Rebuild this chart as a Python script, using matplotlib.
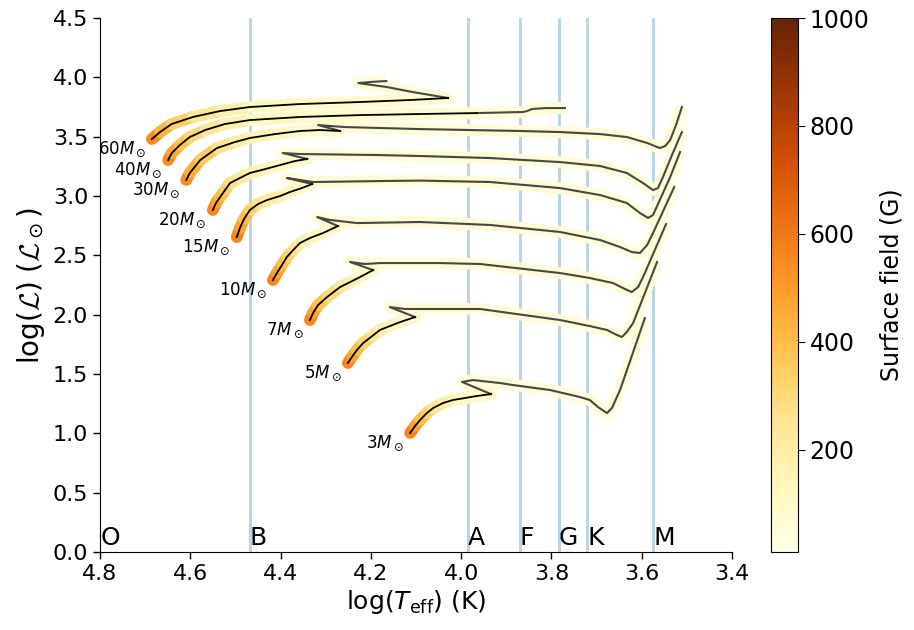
import numpy as np
import matplotlib
matplotlib.use('Agg')
import matplotlib.pyplot as plt
from matplotlib.collections import LineCollection
from matplotlib.colors import Normalize
from matplotlib.cm import ScalarMappable

plt.rcParams['font.family'] = ['DejaVu Sans']
plt.rcParams['mathtext.fontset'] = 'custom'
plt.rcParams['mathtext.rm'] = 'DejaVu Sans'
plt.rcParams['mathtext.it'] = 'DejaVu Sans:italic'
plt.rcParams['mathtext.bf'] = 'DejaVu Sans:bold'
plt.rcParams['mathtext.sf'] = 'DejaVu Sans'
plt.rcParams['mathtext.cal'] = 'cmsy10'

# ---------------- data ----------------
# spectral class boundaries (log Teff)
spec_labels = ['O', 'B', 'A', 'F', 'G', 'K', 'M']
spec_logT = [4.798, 4.468, 3.985, 3.870, 3.783, 3.721, 3.575]

# 60 Msun
ms_T_60 = [4.685, 4.667, 4.641, 4.594, 4.534, 4.468, 4.357, 4.224, 4.113, 4.029]
ms_L_60 = [3.480, 3.539, 3.607, 3.666, 3.716, 3.750, 3.775, 3.792, 3.809, 3.826]
ms_B_60 = [600, 480, 380, 280, 200, 140, 100, 80, 75, 70]
post_T_60 = [4.107, 4.164, 4.228, 4.197, 4.166]
post_L_60 = [3.876, 3.918, 3.952, 3.962, 3.969]

# 40 Msun
ms_T_40 = [4.649, 4.641, 4.623, 4.601, 4.567, 4.523, 4.468, 4.357, 4.224, 4.091, 3.965]
ms_L_40 = [3.303, 3.362, 3.430, 3.497, 3.556, 3.607, 3.640, 3.666, 3.682, 3.691, 3.699]
ms_B_40 = [600, 500, 420, 340, 260, 190, 140, 100, 80, 75, 70]
post_T_40 = [3.863, 3.854, 3.843, 3.814, 3.770]
post_L_40 = [3.708, 3.716, 3.733, 3.741, 3.741]

# 30 Msun
ms_T_30 = [4.609, 4.601, 4.578, 4.541, 4.501, 4.468, 4.412, 4.357, 4.313, 4.268]
ms_L_30 = [3.135, 3.194, 3.303, 3.404, 3.455, 3.489, 3.522, 3.548, 3.556, 3.548]
ms_B_30 = [600, 500, 400, 300, 220, 170, 130, 100, 85, 75]
post_T_30 = [4.317, 4.257, 4.091, 3.870, 3.781, 3.692, 3.633, 3.588, 3.560, 3.548, 3.537, 3.524, 3.511]
post_L_30 = [3.598, 3.581, 3.564, 3.548, 3.539, 3.522, 3.497, 3.447, 3.404, 3.421, 3.472, 3.598, 3.750]

# 20 Msun
ms_T_20 = [4.550, 4.543, 4.534, 4.523, 4.512, 4.490, 4.468, 4.434, 4.401, 4.368, 4.341]
ms_L_20 = [2.882, 2.941, 2.991, 3.050, 3.109, 3.152, 3.194, 3.227, 3.261, 3.295, 3.312]
ms_B_20 = [600, 520, 440, 370, 300, 240, 190, 150, 115, 90, 75]
post_T_20 = [4.395, 4.357, 4.180, 4.091, 3.936, 3.781, 3.692, 3.633, 3.597, 3.575, 3.564, 3.553, 3.533, 3.511]
post_L_20 = [3.362, 3.354, 3.345, 3.337, 3.320, 3.286, 3.253, 3.194, 3.109, 3.050, 3.067, 3.160, 3.345, 3.539]

# 15 Msun
ms_T_15 = [4.497, 4.490, 4.481, 4.468, 4.450, 4.430, 4.401, 4.379, 4.353, 4.330]
ms_L_15 = [2.654, 2.730, 2.806, 2.882, 2.932, 2.966, 3.000, 3.034, 3.067, 3.101]
ms_B_15 = [600, 520, 440, 360, 290, 230, 180, 135, 100, 80]
post_T_15 = [4.386, 4.357, 4.328, 4.180, 4.091, 3.936, 3.781, 3.692, 3.633, 3.604, 3.586, 3.575, 3.560, 3.537, 3.515]
post_L_15 = [3.152, 3.135, 3.118, 3.126, 3.130, 3.118, 3.067, 3.008, 2.941, 2.857, 2.815, 2.840, 2.966, 3.160, 3.371]

# 10 Msun
ms_T_10 = [4.417, 4.408, 4.397, 4.386, 4.372, 4.357, 4.335, 4.306, 4.273]
ms_L_10 = [2.292, 2.351, 2.418, 2.486, 2.545, 2.604, 2.646, 2.688, 2.747]
ms_B_10 = [600, 520, 440, 360, 290, 220, 160, 115, 85]
post_T_10 = [4.319, 4.290, 4.231, 4.091, 3.936, 3.781, 3.692, 3.648, 3.622, 3.604, 3.588, 3.575, 3.528]
post_L_10 = [2.823, 2.798, 2.772, 2.781, 2.756, 2.697, 2.629, 2.570, 2.528, 2.520, 2.587, 2.688, 3.076]

# 7 Msun
ms_T_7 = [4.335, 4.328, 4.317, 4.297, 4.268, 4.246, 4.224, 4.195]
ms_L_7 = [1.955, 2.014, 2.081, 2.149, 2.233, 2.275, 2.317, 2.376]
ms_B_7 = [600, 520, 430, 340, 250, 180, 130, 90]
post_T_7 = [4.246, 4.213, 4.180, 4.047, 3.958, 3.781, 3.715, 3.664, 3.637, 3.622, 3.608, 3.597, 3.546]
post_L_7 = [2.444, 2.427, 2.435, 2.435, 2.427, 2.351, 2.309, 2.267, 2.216, 2.191, 2.233, 2.317, 2.764]

# 5 Msun
ms_T_5 = [4.251, 4.242, 4.231, 4.217, 4.197, 4.180, 4.158, 4.135, 4.102]
ms_L_5 = [1.593, 1.643, 1.702, 1.761, 1.820, 1.871, 1.904, 1.938, 1.980]
ms_B_5 = [600, 520, 440, 360, 280, 210, 150, 110, 85]
post_T_5 = [4.158, 4.124, 4.091, 3.958, 3.781, 3.715, 3.677, 3.655, 3.644, 3.633, 3.619, 3.566]
post_L_5 = [2.064, 2.048, 2.048, 2.048, 1.955, 1.904, 1.871, 1.829, 1.812, 1.854, 1.930, 2.444]

# 3 Msun
ms_T_3 = [4.113, 4.102, 4.091, 4.076, 4.062, 4.040, 4.018, 3.991, 3.965, 3.934]
ms_L_3 = [1.003, 1.062, 1.112, 1.171, 1.213, 1.256, 1.281, 1.298, 1.315, 1.331]
ms_B_3 = [600, 520, 440, 360, 280, 210, 160, 120, 95, 80]
post_T_3 = [3.998, 3.974, 3.914, 3.885, 3.803, 3.737, 3.715, 3.697, 3.677, 3.666, 3.648, 3.593]
post_L_3 = [1.433, 1.449, 1.424, 1.407, 1.365, 1.306, 1.281, 1.222, 1.171, 1.213, 1.365, 1.972]

post_B = 55  # field after the main sequence (G)

mass_labels = ['60', '40', '30', '20', '15', '10', '7', '5', '3']

tracks = [
    (ms_T_60, ms_L_60, ms_B_60, post_T_60, post_L_60),
    (ms_T_40, ms_L_40, ms_B_40, post_T_40, post_L_40),
    (ms_T_30, ms_L_30, ms_B_30, post_T_30, post_L_30),
    (ms_T_20, ms_L_20, ms_B_20, post_T_20, post_L_20),
    (ms_T_15, ms_L_15, ms_B_15, post_T_15, post_L_15),
    (ms_T_10, ms_L_10, ms_B_10, post_T_10, post_L_10),
    (ms_T_7, ms_L_7, ms_B_7, post_T_7, post_L_7),
    (ms_T_5, ms_L_5, ms_B_5, post_T_5, post_L_5),
    (ms_T_3, ms_L_3, ms_B_3, post_T_3, post_L_3),
]

# ---------------- figure ----------------
fig = plt.figure(figsize=(9.14, 6.3), dpi=100)
ax = fig.add_axes([0.1094, 0.1238, 0.6915, 0.8476])
cax = fig.add_axes([0.8435, 0.1238, 0.0295, 0.8476])

cmap = plt.get_cmap('YlOrBr')
norm = Normalize(vmin=10, vmax=1000)

for x in spec_logT[1:]:
    ax.axvline(x, color='#1f77b4', alpha=0.3, lw=2.2, zorder=0)
for lab, x in zip(spec_labels, spec_logT):
    ax.text(x, 0.02, lab, fontsize=18, ha='left', va='bottom', zorder=1)

band_lw = 8.5
for (mT, mL, mB, pT, pL), m in zip(tracks, mass_labels):
    allT = list(mT) + list(pT)
    allL = list(mL) + list(pL)
    # pale band along the whole track
    ax.plot(allT, allL, color=cmap(norm(post_B)), lw=band_lw,
            solid_joinstyle='round', solid_capstyle='butt', zorder=2)
    # coloured MS band
    pts = np.column_stack([mT, mL])
    segs = np.stack([pts[:-1], pts[1:]], axis=1)
    vals = 0.5 * (np.array(mB[:-1]) + np.array(mB[1:]))
    lc = LineCollection(segs, colors=cmap(norm(vals)), linewidths=band_lw,
                        capstyle='round', zorder=3)
    ax.add_collection(lc)
    # post-MS thin line
    ax.plot([mT[-1]] + list(pT), [mL[-1]] + list(pL), color='#474747',
            lw=1.5, solid_joinstyle='round', zorder=4)
    # MS thin line
    ax.plot(mT, mL, color='black', lw=1.3, solid_joinstyle='round', zorder=5)
    ax.annotate(m + r'$M_\odot$', xy=(mT[0], mL[0]), xytext=(-6, -15),
                textcoords='offset pixels', ha='right', va='baseline',
                fontsize=12, zorder=6)

ax.set_xlim(4.8, 3.4)
ax.set_ylim(0, 4.5)
ax.set_xticks(np.arange(4.8, 3.39, -0.2))
ax.set_yticks(np.arange(0, 4.51, 0.5))
ax.tick_params(labelsize=16, length=5, width=1)
for s in ['top', 'right']:
    ax.spines[s].set_visible(False)
ax.set_xlabel(r'log($T_{\rm eff}$) (K)', fontsize=18, labelpad=3)
ax.set_ylabel(r'log($\mathcal{L}$) ($\mathcal{L}_\odot$)', fontsize=20, labelpad=4)

sm = ScalarMappable(norm=norm, cmap=cmap)
cb = fig.colorbar(sm, cax=cax, ticks=[200, 400, 600, 800, 1000])
cb.ax.tick_params(labelsize=17, length=5)
cb.set_label('Surface field (G)', fontsize=17, labelpad=7)

fig.savefig('out.png', dpi=100)
